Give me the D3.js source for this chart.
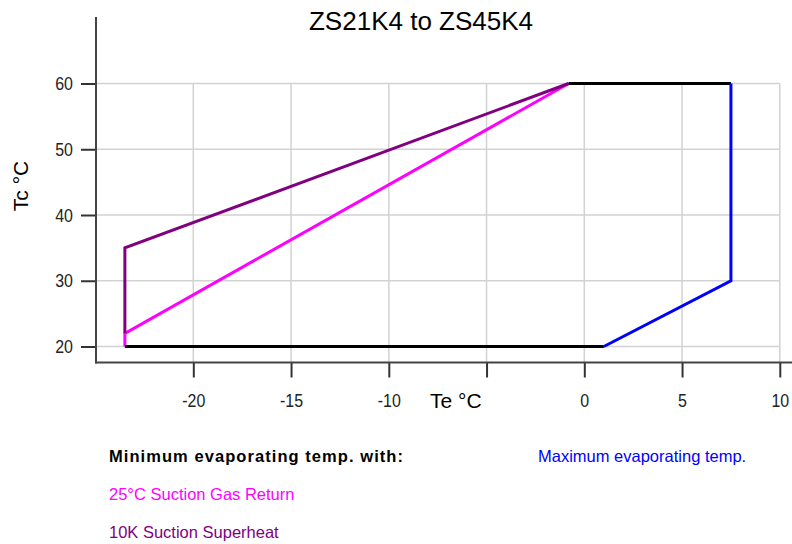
<!DOCTYPE html>
<html>
<head>
<meta charset="utf-8">
<script src="https://cdn.jsdelivr.net/npm/d3@7"></script>
<style>
  body{margin:0;background:#fff;}
  svg{display:block;font-family:"Liberation Sans",Arial,sans-serif;}
  .tick text{font-family:"Liberation Sans",Arial,sans-serif;font-size:19px;fill:#222;}
</style>
</head>
<body>
<svg id="chart" width="792" height="544"></svg>
<script>
'use strict';

// operating envelope, Te (x) / Tc (y) in degC
var envelopeBottom=[[-23.5,20],[1,20]]
  , envelopeTop=[[-0.8,60],[7.5,60]]
  , maxEvap=[[1,20],[7.5,30],[7.5,60]]
  , gasReturn25=[[-23.5,20],[-23.5,22],[-0.8,60]]
  , superheat10=[[-23.5,22],[-23.5,35],[-0.8,60]]

var xTicks=[-20,-15,-10,-5,0,5,10]
  , yTicks=[20,30,40,50,60]
  , xTickLabels=['-20','-15','-10','','0','5','10']

var legendRows=[
    {text:'Minimum evaporating temp. with:',color:'#000',bold:true,x:109,y:462,len:294}
  , {text:'Maximum evaporating temp.',color:'#0000ff',x:538,y:462}
  , {text:'25°C Suction Gas Return',color:'#ff00ff',x:109,y:500}
  , {text:'10K Suction Superheat',color:'#800080',x:109,y:538}
]

var svg=d3.select('#chart')

var x=d3.scaleLinear().domain([-20,10]).range([193.3,779.8])
  , y=d3.scaleLinear().domain([20,60]).range([346.5,83.5])

// grid
var grid=svg.append('g').attr('stroke','#d2d2d2').attr('stroke-width',1.5)
grid.selectAll('line.v')
    .data(xTicks)
    .enter().append('line')
    .attr('x1',function(d){return x(d)})
    .attr('x2',function(d){return x(d)})
    .attr('y1',y(60))
    .attr('y2',362.5)
grid.selectAll('line.h')
    .data(yTicks)
    .enter().append('line')
    .attr('x1',96)
    .attr('x2',x(10))
    .attr('y1',function(d){return y(d)})
    .attr('y2',function(d){return y(d)})

// axes
var xAxis=d3.axisBottom(x)
    .tickValues(xTicks)
    .tickSize(15)
    .tickPadding(16)
    .tickFormat(function(d,i){return xTickLabels[i]})
var yAxis=d3.axisLeft(y)
    .tickValues(yTicks)
    .tickSize(15)
    .tickPadding(8)

svg.append('g')
    .attr('transform','translate(0,362.5)')
    .call(xAxis)
    .call(function(g){
        g.select('.domain').remove();
        g.selectAll('.tick line').attr('stroke','#333').attr('stroke-width',2);
        // labels in the reference are a narrow face
        g.selectAll('.tick text').attr('transform','scale(0.84,1)');
    });
svg.append('line')
    .attr('x1',95).attr('x2',792)
    .attr('y1',362.5).attr('y2',362.5)
    .attr('stroke','#444').attr('stroke-width',2)

svg.append('g')
    .attr('transform','translate(96,0)')
    .call(yAxis)
    .call(function(g){
        g.select('.domain').remove();
        g.selectAll('.tick line').attr('stroke','#333').attr('stroke-width',2);
        g.selectAll('.tick text')
            .attr('x',-23/0.84)
            .attr('transform','scale(0.84,1)');
    });
svg.append('line')
    .attr('x1',96).attr('x2',96)
    .attr('y1',17).attr('y2',363.5)
    .attr('stroke','#444').attr('stroke-width',2)

// envelope lines
var line=d3.line()
    .x(function(d){return x(d[0])})
    .y(function(d){return y(d[1])})

var series=[
    {pts:gasReturn25,color:'#ff00ff'}
  , {pts:superheat10,color:'#800080'}
  , {pts:envelopeBottom,color:'#000'}
  , {pts:envelopeTop,color:'#000'}
  , {pts:maxEvap,color:'#0000ff'}
]
svg.append('g')
    .selectAll('path')
    .data(series)
    .enter().append('path')
    .attr('d',function(d){return line(d.pts)})
    .attr('fill','none')
    .attr('stroke',function(d){return d.color})
    .attr('stroke-width',3)
    .attr('stroke-linejoin','miter')

// titles
svg.append('text')
    .attr('x',421).attr('y',30)
    .attr('text-anchor','middle')
    .attr('font-size',26)
    .text('ZS21K4 to ZS45K4')
svg.append('text')
    .attr('x',430).attr('y',408)
    .attr('font-size',21)
    .text('Te °C')
svg.append('text')
    .attr('transform','translate(28,186) rotate(-90)')
    .attr('text-anchor','middle')
    .attr('font-size',21)
    .text('Tc °C')

// legend
svg.append('g')
    .selectAll('text')
    .data(legendRows)
    .enter().append('text')
    .attr('x',function(d){return d.x})
    .attr('y',function(d){return d.y})
    .attr('fill',function(d){return d.color})
    .attr('font-size',16.5)
    .attr('font-weight',function(d){return d.bold?'bold':'normal'})
    .attr('textLength',function(d){return d.len||null})
    .attr('lengthAdjust','spacing')
    .text(function(d){return d.text})
</script>
</body>
</html>
